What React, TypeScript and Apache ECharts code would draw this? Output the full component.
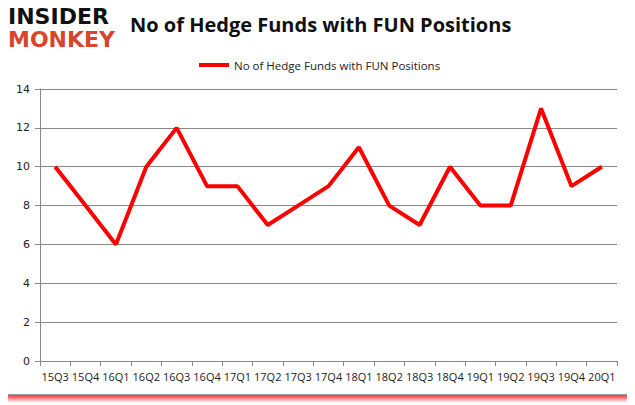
import React, { useEffect, useRef } from "react";
import * as echarts from "echarts";

const categories = ["15Q3","15Q4","16Q1","16Q2","16Q3","16Q4","17Q1","17Q2","17Q3","17Q4","18Q1","18Q2","18Q3","18Q4","19Q1","19Q2","19Q3","19Q4","20Q1"];
const hedgeFunds = [10, 8, 6, 10, 12, 9, 9, 7, 8, 9, 11, 8, 7, 10, 8, 8, 13, 9, 10];
const seriesName = "No of Hedge Funds with FUN Positions";

export default function App() {
  const ref = useRef<HTMLDivElement>(null);
  useEffect(() => {
    const chart = echarts.init(ref.current!, null, { renderer: "svg" });
    chart.setOption({
      animation: false,
      backgroundColor: "#ffffff",
      title: {
        text: seriesName,
        left: 120,
        top: 7,
        textStyle: { fontFamily: "Open Sans", fontWeight: "bold", fontSize: 20, color: "#111" },
      },
      legend: {
        top: 52,
        left: 189,
        itemWidth: 30,
        itemHeight: 4,
        icon: "rect",
        itemGap: 4,
        textStyle: { fontFamily: "Open Sans", fontSize: 11.5, color: "#222" },
        data: [seriesName],
      },
      graphic: [
        { type: "text", left: 3, top: 3, style: { text: "INSIDER", fontFamily: "DejaVu Sans", fontWeight: "bold", fontSize: 22, fill: "#111" } },
        { type: "text", left: 3, top: 26, style: { text: "MONKEY", fontFamily: "DejaVu Sans", fontWeight: "bold", fontSize: 22, fill: "#d9442b" } },
      ],
      grid: { left: 35, right: 13, top: 87, bottom: 33 },
      xAxis: {
        type: "category",
        data: categories,
        boundaryGap: true,
        axisLine: { lineStyle: { color: "#888" } },
        axisTick: { show: true, lineStyle: { color: "#888" } },
        axisLabel: { color: "#222", fontSize: 11, fontFamily: "Open Sans", interval: 0, margin: 10 },
      },
      yAxis: {
        type: "value",
        min: 0,
        max: 14,
        interval: 2,
        axisLine: { show: true, lineStyle: { color: "#888" } },
        axisTick: { show: true, lineStyle: { color: "#888" } },
        splitLine: { lineStyle: { color: "#888" } },
        axisLabel: { color: "#222", fontSize: 11, fontFamily: "DejaVu Sans", margin: 10 },
      },
      series: [
        {
          name: seriesName,
          type: "line",
          data: hedgeFunds,
          symbol: "none",
          lineStyle: { color: "#ff0000", width: 4 },
          itemStyle: { color: "#ff0000" },
        },
      ],
    });
    return () => chart.dispose();
  }, []);
  return (
    <div style={{ width: 625, height: 392, border: "1px solid #999", boxShadow: "0 4px 5px rgba(255,0,0,0.8)", margin: 0, position: "relative", left: -4, top: -7 }}>
      <div ref={ref} style={{ width: 625, height: 392 }} />
    </div>
  );
}
